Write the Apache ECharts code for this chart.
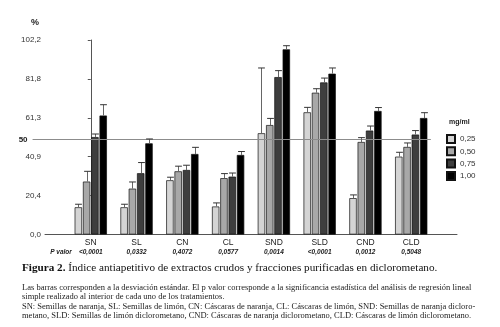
<!DOCTYPE html>
<html>
<head>
<meta charset="utf-8">
<script src="https://cdn.jsdelivr.net/npm/echarts@6/dist/echarts.min.js"></script>
<style>
  html, body { margin: 0; padding: 0; background: #fff; }
  #chart { width: 500px; height: 327px; }
</style>
</head>
<body>
<div id="chart"></div>
<script>
// datos
const categories = ['SN', 'SL', 'CN', 'CL', 'SND', 'SLD', 'CND', 'CLD'];
const pValues = ['<0,0001', '0,0332', '0,4072', '0,0577', '0,0014', '<0,0001', '0,0012', '0,5048'];
const doses = ['0,25', '0,50', '0,75', '1,00'];
const mean025 = [14.3, 14.3, 28.5, 14.7, 53.2, 64.2, 19.1, 40.9];
const mean050 = [27.8, 24.1, 33.2, 29.6, 57.5, 74.5, 48.6, 46.0];
const mean075 = [51.2, 32.2, 33.9, 30.4, 82.7, 79.9, 54.6, 52.5];
const mean100 = [62.5, 47.9, 42.3, 41.8, 97.3, 84.5, 64.9, 61.2];
const sd025 = [1.6, 1.6, 1.6, 1.9, 34.3, 2.6, 1.7, 2.3];
const sd050 = [5.4, 3.5, 2.7, 2.4, 3.5, 2.1, 2.3, 2.1];
const sd075 = [1.6, 5.6, 2.5, 1.9, 3.4, 2.3, 2.4, 2.1];
const sd100 = [5.7, 2.3, 3.5, 1.8, 1.9, 3.0, 1.8, 2.8];
const yTickLabels = ['0,0', '20,4', '40,9', '61,3', '81,8', '102,2'];
const refValue = 50;

const means = [mean025, mean050, mean075, mean100];
const sds = [sd025, sd050, sd075, sd100];
const colors = ['#d4d4d4', '#a8a8a8', '#3e3e3e', '#000000'];
const BAR_W = 7.4;
const BAR_GAP = 0.12;

const chart = echarts.init(document.getElementById('chart'));

function errorItem(k) {
  return function (params, api) {
    const x = api.value(0), m = api.value(1), s = api.value(2);
    const off = (k - 1.5) * BAR_W * (1 + BAR_GAP);
    const base = api.coord([x, m]);
    const top = api.coord([x, m + s]);
    const cx = Math.round(base[0] + off) + 0.5;
    const hw = BAR_W / 2 - 0.3;
    return {
      type: 'group',
      children: [
        { type: 'line', shape: { x1: cx, y1: base[1], x2: cx, y2: top[1] }, style: { stroke: '#666', lineWidth: 1 } },
        { type: 'line', shape: { x1: cx - hw, y1: top[1], x2: cx + hw, y2: top[1] }, style: { stroke: '#333', lineWidth: 1 } }
      ]
    };
  };
}

let series = [];
doses.forEach((d, k) => {
  let s = {
    name: d,
    type: 'bar',
    barWidth: BAR_W,
    barGap: BAR_GAP * 100 + '%',
    data: means[k].map((v, i) => [i, v]),
    itemStyle: { color: colors[k], borderColor: '#111', borderWidth: 0.7 },
    emphasis: { disabled: true }
  };
  if (k === 0) {
    s.markLine = {
      silent: true,
      symbol: 'none',
      lineStyle: { color: '#8c8c8c', width: 1, type: 'solid' },
      label: { show: true, position: 'start', formatter: '50', fontSize: 8, fontWeight: 'bold', color: '#222', distance: 5 },
      data: [[{ coord: [-1, refValue] }, { coord: [7.7, refValue] }]]
    };
  }
  series.push(s);
});
doses.forEach((d, k) => {
  series.push({
    name: 'sd ' + d,
    type: 'custom',
    renderItem: errorItem(k),
    data: means[k].map((v, i) => [i, v, sds[k][i]]),
    z: 5,
    silent: true
  });
});

const option = {
  animation: false,
  textStyle: { fontFamily: 'Liberation Sans, Arial, sans-serif' },
  title: [
    { text: '%', left: 31, top: 18, padding: 0, textStyle: { fontSize: 9, fontWeight: 'bold', color: '#222' } },
    { text: 'mg/ml', left: 449, top: 119, padding: 0, textStyle: { fontSize: 7, fontWeight: 'bold', color: '#222' } },
    {
      text: '{b|Figura 2.} Índice antiapetitivo de extractos crudos y fracciones purificadas en diclorometano.',
      left: 22, top: 263, padding: 0,
      textStyle: {
        fontFamily: 'Liberation Serif, serif', fontSize: 11.2, fontWeight: 'normal', color: '#111',
        rich: { b: { fontFamily: 'Liberation Serif, serif', fontSize: 11.2, fontWeight: 'bold', color: '#111' } }
      }
    },
    {
      text: 'Las barras corresponden a la desviación estándar. El p valor corresponde a la significancia estadística del análisis de regresión lineal\n' +
        'simple realizado al interior de cada uno de los tratamientos.\n' +
        'SN: Semillas de naranja, SL: Semillas de limón, CN: Cáscaras de naranja, CL: Cáscaras de limón, SND: Semillas de naranja dicloro-\n' +
        'metano, SLD: Semillas de limón diclorometano, CND: Cáscaras de naranja diclorometano, CLD: Cáscaras de limón diclorometano.',
      left: 22, top: 283, padding: 0,
      textStyle: { fontFamily: 'Liberation Serif, serif', fontSize: 8.5, fontWeight: 'normal', color: '#222', lineHeight: 9.4 }
    }
  ],
  legend: {
    data: doses,
    orient: 'vertical',
    left: 446, top: 134,
    padding: 0,
    itemWidth: 8, itemHeight: 8, itemGap: 2.3,
    icon: 'rect',
    selectedMode: false,
    textStyle: { fontSize: 8, color: '#333', lineHeight: 8 }
  },
  grid: { left: 45, right: 43, top: 40, bottom: 92.5 },
  xAxis: {
    type: 'value',
    min: -1, max: 8, interval: 1,
    splitLine: { show: false },
    axisTick: { show: false },
    axisLine: { show: true, lineStyle: { color: '#555', width: 1 } },
    axisLabel: {
      showMinLabel: true, showMaxLabel: true,
      margin: 3,
      formatter: function (v) {
        if (v === -1) return '{c| }\n{pv|P valor}';
        if (v >= 0 && v < categories.length) return '{c|' + categories[v] + '}\n{p|' + pValues[v] + '}';
        return '';
      },
      rich: {
        c: { fontSize: 8.5, color: '#222', lineHeight: 10 },
        p: { fontSize: 6.5, fontStyle: 'italic', fontWeight: 'bold', color: '#222', lineHeight: 9 },
        pv: { fontSize: 6.5, fontStyle: 'italic', fontWeight: 'bold', color: '#222', lineHeight: 9, padding: [0, 0, 0, 32] }
      }
    }
  },
  yAxis: {
    type: 'value',
    min: 0, max: 102.2, interval: 20.44,
    splitLine: { show: false },
    axisLine: { show: true, lineStyle: { color: '#555', width: 1 } },
    axisTick: { show: true, length: 3, lineStyle: { color: '#555' } },
    axisLabel: {
      fontSize: 8, color: '#333', margin: 4,
      formatter: function (v) { return yTickLabels[Math.round(v / 20.44)]; }
    }
  },
  series: series
};

chart.setOption(option);
window.addEventListener('resize', () => chart.resize(), false);
</script>
</body>
</html>
